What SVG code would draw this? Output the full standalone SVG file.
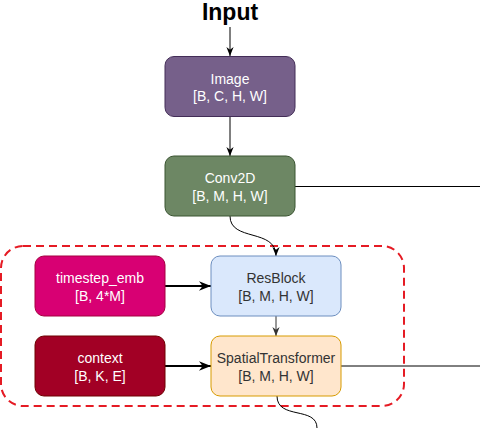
<svg xmlns="http://www.w3.org/2000/svg" width="480" height="428" viewBox="0 0 480 428">
<style>
.t{font-family:"Liberation Sans",Arial,Helvetica,sans-serif;font-size:14px;text-anchor:middle}
.w{fill:#ffffff}
.d{fill:#333333}
.c{fill:none;stroke:#000000;stroke-width:1}
</style>
<defs>
<marker id="a1" viewBox="0 0 10 10" refX="10" refY="5" markerWidth="9" markerHeight="9" markerUnits="userSpaceOnUse" orient="auto">
<path d="M0,1 L10,5 L0,9 L3,5 Z" fill="#000"/>
</marker>
<marker id="a2" viewBox="0 0 10 10" refX="10" refY="5" markerWidth="12" markerHeight="12" markerUnits="userSpaceOnUse" orient="auto">
<path d="M0,1 L10,5 L0,9 L3,5 Z" fill="#000"/>
</marker>
<marker id="a3" viewBox="0 0 10 10" refX="10" refY="5" markerWidth="9" markerHeight="9" markerUnits="userSpaceOnUse" orient="auto">
<path d="M0,1 L10,5 L0,9 L3,5 Z" fill="#333"/>
</marker>
</defs>
<rect width="480" height="428" fill="#ffffff"/>
<text x="230" y="19.5" font-family="Liberation Sans,Arial,sans-serif" font-size="23" font-weight="bold" text-anchor="middle" fill="#000">Input</text>
<g id="group">
<rect x="1" y="246" width="403" height="160" rx="22" fill="none" stroke="#e51b24" stroke-width="2" stroke-dasharray="8 5"/>
</g>
<g id="connectors">
<line class="c" x1="230" y1="27" x2="230" y2="56" marker-end="url(#a1)"/>
<line class="c" x1="230" y1="116" x2="230" y2="156" marker-end="url(#a1)"/>
<line class="c" x1="295" y1="186.5" x2="480" y2="186.5"/>
<path class="c" d="M230,216 C230,242 276,228 276,256" marker-end="url(#a1)"/>
<line x1="165" y1="286" x2="211" y2="286" stroke="#000" stroke-width="2" marker-end="url(#a2)"/>
<line x1="165" y1="366" x2="211" y2="366" stroke="#000" stroke-width="2" marker-end="url(#a2)"/>
<line x1="276" y1="316" x2="276" y2="336" stroke="#333" stroke-width="1" marker-end="url(#a3)"/>
<line class="c" x1="341" y1="366" x2="480" y2="366"/>
<path class="c" d="M277,396 C277,420 317,406 317,428"/>
</g>
<g id="image">
<rect x="165" y="56.5" width="130" height="60" rx="9" fill="#76608a" stroke="#432d57"/>
<text class="t w" x="230" y="83.5">Image</text>
<text class="t w" x="230" y="101">[B, C, H, W]</text>
</g>
<g id="conv2d">
<rect x="165" y="156" width="130" height="60" rx="9" fill="#6d8764" stroke="#3a5431"/>
<text class="t w" x="230" y="183">Conv2D</text>
<text class="t w" x="230" y="200.5">[B, M, H, W]</text>
</g>
<g id="timestep_emb">
<rect x="35" y="256" width="130" height="60" rx="9" fill="#d80073" stroke="#a50040"/>
<text class="t w" x="100" y="283">timestep_emb</text>
<text class="t w" x="100" y="300.5">[B, 4*M]</text>
</g>
<g id="context">
<rect x="35" y="336" width="130" height="60" rx="9" fill="#a20025" stroke="#6f0000"/>
<text class="t w" x="100" y="363">context</text>
<text class="t w" x="100" y="380.5">[B, K, E]</text>
</g>
<g id="resblock">
<rect x="211" y="256" width="130" height="60" rx="9" fill="#dae8fc" stroke="#6c8ebf"/>
<text class="t d" x="276" y="283">ResBlock</text>
<text class="t d" x="276" y="300.5">[B, M, H, W]</text>
</g>
<g id="spatialtransformer">
<rect x="211" y="336" width="130" height="60" rx="9" fill="#ffe6cc" stroke="#d79b00"/>
<text class="t d" x="276" y="363">SpatialTransformer</text>
<text class="t d" x="276" y="380.5">[B, M, H, W]</text>
</g>
</svg>
